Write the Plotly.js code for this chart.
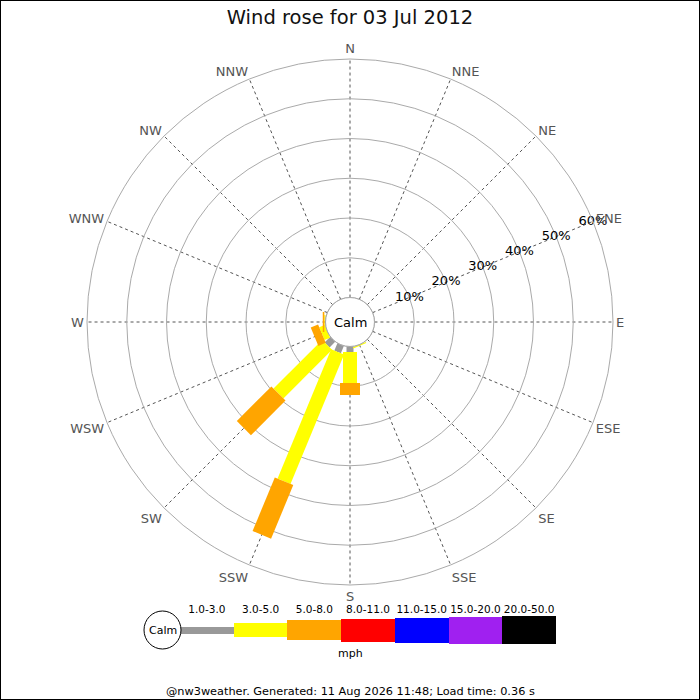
<!DOCTYPE html>
<html>
<head>
<meta charset="utf-8">
<script src="https://cdn.plot.ly/plotly-3.0.1.min.js"></script>
<style>
  html, body { margin: 0; padding: 0; background: #fff; }
  #chart { width: 700px; height: 700px; }
</style>
</head>
<body>
<div id="chart"></div>
<script>
// compass points, clockwise from north
const directions = ["N", "NNE", "NE", "ENE", "E", "ESE", "SE", "SSE",
                    "S", "SSW", "SW", "WSW", "W", "WNW", "NW", "NNW"];
const speedBins = ["1.0-3.0", "3.0-5.0", "5.0-8.0", "8.0-11.0", "11.0-15.0", "15.0-20.0", "20.0-50.0"];

// percentage of the day per direction, one array per speed bin (mph)
const pct1to3   = [0, 0, 0, 0, 0, 0, 0, 0,   1.4,  2.0,  2.0, 0,   0,   0, 0, 0];
const pct3to5   = [0, 0, 0, 0, 0, 0, 0, 0.3, 7.8, 35.2, 17.3, 1.5, 0.3, 0, 0, 0];
const pct5to8   = [0, 0, 0, 0, 0, 0, 0, 0,   3.0, 14.6, 12.3, 2.0, 0.4, 0, 0, 0];
const pct8to11  = [0, 0, 0, 0, 0, 0, 0, 0, 0, 0, 0, 0, 0, 0, 0, 0];
const pct11to15 = [0, 0, 0, 0, 0, 0, 0, 0, 0, 0, 0, 0, 0, 0, 0, 0];
const pct15to20 = [0, 0, 0, 0, 0, 0, 0, 0, 0, 0, 0, 0, 0, 0, 0, 0];
const pct20to50 = [0, 0, 0, 0, 0, 0, 0, 0, 0, 0, 0, 0, 0, 0, 0, 0];

const radialTicks = [10, 20, 30, 40, 50, 60];
const radialLabelDir = "ENE";

// styling
const binColors = ["#999999", "#ffff00", "#ffa500", "#ff0000", "#0000ff", "#a020f0", "#000000"];
const binWidthPx = [7, 14, 20, 23, 25, 27, 28];
const font = "DejaVu Sans, sans-serif";

const allBins = [pct1to3, pct3to5, pct5to8, pct8to11, pct11to15, pct15to20, pct20to50];
const dirAngle = directions.map((_, i) => i * 22.5);

// each speed segment is a thick line from its cumulative start to end
const cum = directions.map(() => 0);
const roseTraces = allBins.map((vals, k) => {
  const r = [], theta = [];
  vals.forEach((v, i) => {
    if (v > 0) {
      r.push(cum[i], cum[i] + v, null);
      theta.push(dirAngle[i], dirAngle[i], null);
    }
    cum[i] += v;
  });
  return {
    type: "scatterpolar",
    mode: "lines",
    r, theta,
    line: { color: binColors[k], width: binWidthPx[k] },
    connectgaps: false,
    hoverinfo: "skip",
    showlegend: false,
  };
});

// calm circle edge sits at r = 0 (the hole)
const circTheta = [];
for (let a = 0; a <= 360; a += 5) circTheta.push(a);
const calmRing = {
  type: "scatterpolar",
  mode: "lines",
  r: circTheta.map(() => 0),
  theta: circTheta,
  line: { color: "#aaaaaa", width: 1 },
  hoverinfo: "skip",
  showlegend: false,
};

// ring labels centred on the ENE spoke
const ringLabels = {
  type: "scatterpolar",
  mode: "text",
  r: radialTicks,
  theta: radialTicks.map(() => dirAngle[directions.indexOf(radialLabelDir)]),
  text: radialTicks.map((v) => v + "%"),
  textposition: "middle center",
  textfont: { family: font, size: 13, color: "#000" },
  hoverinfo: "skip",
  showlegend: false,
};

// legend strip drawn as bars on its own small axes
const legendBars = {
  type: "bar",
  x: speedBins,
  y: binWidthPx,
  base: binWidthPx.map((w) => -w / 2),
  width: 1,
  marker: { color: binColors, line: { width: 0 } },
  hoverinfo: "skip",
  showlegend: false,
  xaxis: "x",
  yaxis: "y",
};

const note = (text, x, y, size) => ({
  text, xref: "paper", yref: "paper", x, y,
  xanchor: "center", yanchor: "middle",
  showarrow: false, font: { family: font, size, color: "#000" },
});

const layout = {
  width: 700,
  height: 700,
  margin: { l: 0, r: 0, t: 0, b: 0 },
  paper_bgcolor: "#ffffff",
  plot_bgcolor: "#ffffff",
  font: { family: font, size: 12, color: "#000" },
  showlegend: false,
  title: {
    text: "Wind rose for 03 Jul 2012",
    x: 0.5,
    xanchor: "center",
    y: 1 - 17 / 700,
    yanchor: "middle",
    font: { family: font, size: 19.5, color: "#111" },
  },
  polar: {
    domain: { x: [87 / 700, 613 / 700], y: [115 / 700, 641 / 700] },
    hole: 0.093,
    bgcolor: "#ffffff",
    radialaxis: {
      range: [0, 60],
      tickvals: radialTicks,
      showticklabels: false,
      angle: 22.5,
      showline: false,
      ticks: "",
      gridcolor: "#aaaaaa",
      gridwidth: 1,
    },
    angularaxis: {
      rotation: 90,
      direction: "clockwise",
      tickvals: dirAngle,
      ticktext: directions,
      ticks: "",
      showline: true,
      linecolor: "#aaaaaa",
      linewidth: 1,
      gridcolor: "#555555",
      griddash: "dot",
      gridwidth: 1,
      tickfont: { family: font, size: 13, color: "#555" },
    },
  },
  xaxis: {
    domain: [180 / 700, 556 / 700],
    anchor: "y",
    type: "category",
    range: [-0.5, 6.5],
    side: "top",
    tickangle: 0,
    showgrid: false,
    zeroline: false,
    showline: false,
    ticks: "",
    tickfont: { family: font, size: 10.5, color: "#000" },
    fixedrange: true,
  },
  yaxis: {
    domain: [56 / 700, 84 / 700],
    anchor: "x",
    range: [-14, 14],
    visible: false,
    fixedrange: true,
  },
  bargap: 0,
  shapes: [
    {
      type: "circle", xref: "paper", yref: "paper",
      x0: 144 / 700, x1: 181 / 700, y0: 51 / 700, y1: 89 / 700,
      line: { color: "#000", width: 1 }, fillcolor: "#fff",
    },
    {
      type: "rect", xref: "paper", yref: "paper",
      x0: 0, x1: 1, y0: 0, y1: 1,
      line: { color: "#000", width: 2 },
    },
  ],
  annotations: [
    note("Calm", 0.5, 1 - 322 / 700, 13),
    note("Calm", 162.5 / 700, 70 / 700, 11),
    note("mph", 0.5, 47 / 700, 11),
    note("@nw3weather. Generated: 11 Aug 2026 11:48; Load time: 0.36 s", 0.5, 9 / 700, 11.3),
  ],
};

Plotly.newPlot("chart", [...roseTraces, calmRing, ringLabels, legendBars], layout, {
  displayModeBar: false,
  staticPlot: true,
});
</script>
</body>
</html>
